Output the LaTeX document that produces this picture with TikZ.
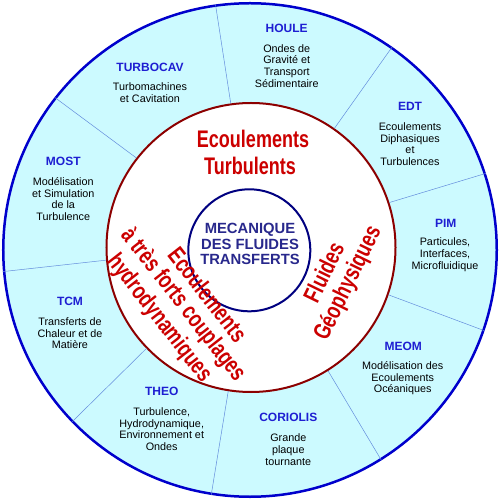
\documentclass[tikz,border=0pt]{standalone}
\usepackage{fontspec}
\setmainfont{Liberation Sans}
\usepackage{graphicx}
\definecolor{outerfill}{RGB}{204,250,255}
\definecolor{outerline}{RGB}{0,0,204}
\definecolor{midline}{RGB}{140,0,0}
\definecolor{innerline}{RGB}{0,0,128}
\definecolor{divline}{RGB}{100,140,220}
\definecolor{titleblue}{RGB}{30,30,210}
\definecolor{redtext}{RGB}{204,0,0}
\definecolor{centerblue}{RGB}{40,40,140}
\newcommand\narrowtxt[1]{\scalebox{0.75}[1]{#1}}
\begin{document}
\begin{tikzpicture}[x=1pt,y=1pt,
  ttl/.style={font=\fontsize{12}{14}\selectfont\bfseries, text=titleblue, inner sep=0pt},
  bodytxt/.style={font=\fontsize{10.8}{11.7}\selectfont, align=center, inner sep=0pt},
  bigred/.style={font=\fontsize{24}{26}\selectfont\bfseries, text=redtext, inner sep=0pt, anchor=base},
  centertxt/.style={font=\fontsize{14.8}{15.5}\selectfont\bfseries, text=centerblue, inner sep=0pt, anchor=base},
  divider/.style={draw=divline, line width=0.5pt}]
\useasboundingbox (-250,-250) rectangle (250,250);
\fill[white] (-250,-250) rectangle (250,250);
\node[circle, draw=outerline, fill=outerfill, line width=2.5pt, minimum size=493.5pt, inner sep=0pt] (outer) at (0,0) {};
\node[circle, draw=midline, fill=white, line width=2pt, minimum size=289pt, inner sep=0pt] (mid) at (1,2.5) {};
\node[circle, draw=innerline, fill=white, line width=2pt, minimum size=122pt, inner sep=0pt] (inner) at (-0.7,-0.3) {};
\foreach \a in {98.7,55.5,18.1,-19,-58,-99,-136,-175.2,142.5}
  \draw[divider] (mid.\a) -- (outer.\a);
% centre
\node[centertxt] (c1) at (0,16) {MECANIQUE};
\node[centertxt] (c2) at (0,0) {DES FLUIDES};
\node[centertxt] (c3) at (0,-15) {TRANSFERTS};
% red themes
\node[bigred] (et1) at (3,102) {\narrowtxt{Ecoulements}};
\node[bigred] (et2) at (0,75) {\narrowtxt{Turbulents}};
\begin{scope}[shift={(75.8,-23.3)}, rotate=64]
\node[bigred, rotate=64] (fg1) at (0,-6) {\narrowtxt{Fluides}};
\node[bigred, rotate=64] (fg2) at (1,-31) {\narrowtxt{Géophysiques}};
\end{scope}
\begin{scope}[shift={(-66.7,-54.7)}, rotate=-52]
\node[bigred, rotate=-52] (ec1) at (7,17) {\narrowtxt{Ecoulements}};
\node[bigred, rotate=-52] (ec2) at (0,-7) {\narrowtxt{à très forts couplages}};
\node[bigred, rotate=-52] (ec3) at (-4,-34) {\narrowtxt{hydrodynamiques}};
\end{scope}
% sectors
\node[ttl] (t1) at (-100,183) {TURBOCAV};
\node[bodytxt] (b1) at (-100,157.5) {Turbomachines\\et Cavitation};
\node[ttl] (t2) at (36.7,222) {HOULE};
\node[bodytxt] (b2) at (36.7,184.3) {Ondes de\\Gravité et\\Transport\\Sédimentaire};
\node[ttl] (t3) at (160,143.3) {EDT};
\node[bodytxt] (b3) at (160,106) {Ecoulements\\Diphasiques\\et\\Turbulences};
\node[ttl] (t4) at (195.7,26.7) {PIM};
\node[bodytxt] (b4) at (195,-4.8) {Particules,\\Interfaces,\\Microfluidique};
\node[ttl] (t5) at (153.3,-96.7) {MEOM};
\node[bodytxt] (b5) at (152.7,-128.3) {Modélisation des\\Ecoulements\\Océaniques};
\node[ttl] (t6) at (38.3,-167.7) {CORIOLIS};
\node[bodytxt] (b6) at (38.3,-199.8) {Grande\\plaque\\tournante};
\node[ttl] (t7) at (-88.3,-141.7) {THEO};
\node[bodytxt] (b7) at (-88.3,-179.2) {Turbulence,\\Hydrodynamique,\\Environnement et\\Ondes};
\node[ttl] (t8) at (-180,-51.7) {TCM};
\node[bodytxt] (b8) at (-180,-83.2) {Transferts de\\Chaleur et de\\Matière};
\node[ttl] (t9) at (-186.7,88.3) {MOST};
\node[bodytxt] (b9) at (-186.7,50.8) {Modélisation\\et Simulation\\de la\\Turbulence};
\end{tikzpicture}
\end{document}
